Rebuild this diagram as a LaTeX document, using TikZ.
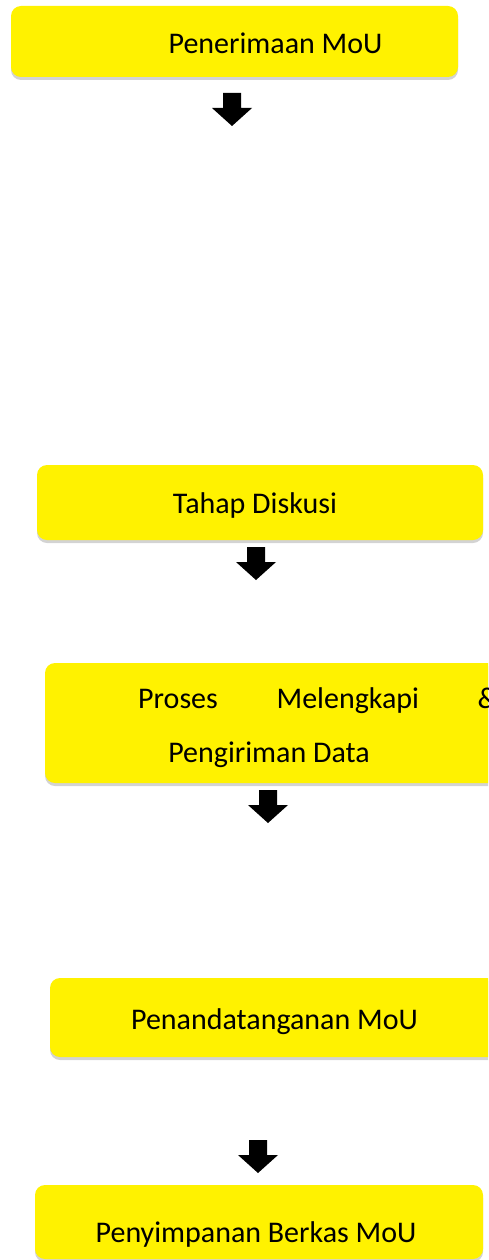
\documentclass[tikz,border=0pt]{standalone}
\usepackage{fontspec}
\setmainfont{Carlito}
\usetikzlibrary{shadows}
\tikzset{
  kotak/.style={fill=yellow, rounded corners=10pt, inner sep=0pt,
    drop shadow={shadow xshift=0pt, shadow yshift=-3pt, opacity=.35}},
  teks/.style={anchor=base, inner sep=0pt, font=\fontsize{30}{36}\selectfont},
  panah/.pic={\fill[black] (-9,0) -- (9,0) -- (9,15) -- (20,15) -- (0,33) -- (-20,15) -- (-9,15) -- cycle;}
}
\begin{document}
\begin{tikzpicture}[x=1pt,y=-1pt]
  \useasboundingbox (0,0) rectangle (488,1260);
  \clip (0,0) rectangle (488,1260);

  \foreach \nama/\xa/\ya/\xb/\yb in {k1/11/6/458/77, k2/37/465/483/540,
      k3/45/663/515/783, k4/50/978/515/1057, k5/35/1185/483/1259}
    \node[kotak, minimum width=\xb-\xa, minimum height=\yb-\ya]
      (\nama) at ({(\xa+\xb)/2},{(\ya+\yb)/2}) {};

  \node[teks] (t1) at (275.5,54) {Penerimaan MoU};
  \node[teks] (t2) at (255,513) {Tahap Diskusi};
  \node[teks, anchor=base west] (t3a) at (138,708) {\makebox[360pt][s]{Proses Melengkapi \&}};
  \node[teks] (t3b) at (269,762) {Pengiriman Data};
  \node[teks] (t4) at (274.5,1029) {Penandatanganan MoU};
  \node[teks] (t5) at (256,1242) {Penyimpanan Berkas MoU};

  \pic (p1) at (232,93) {panah};
  \pic (p2) at (256,547) {panah};
  \pic (p3) at (268,790) {panah};
  \pic (p4) at (258,1140) {panah};
\end{tikzpicture}
\end{document}
